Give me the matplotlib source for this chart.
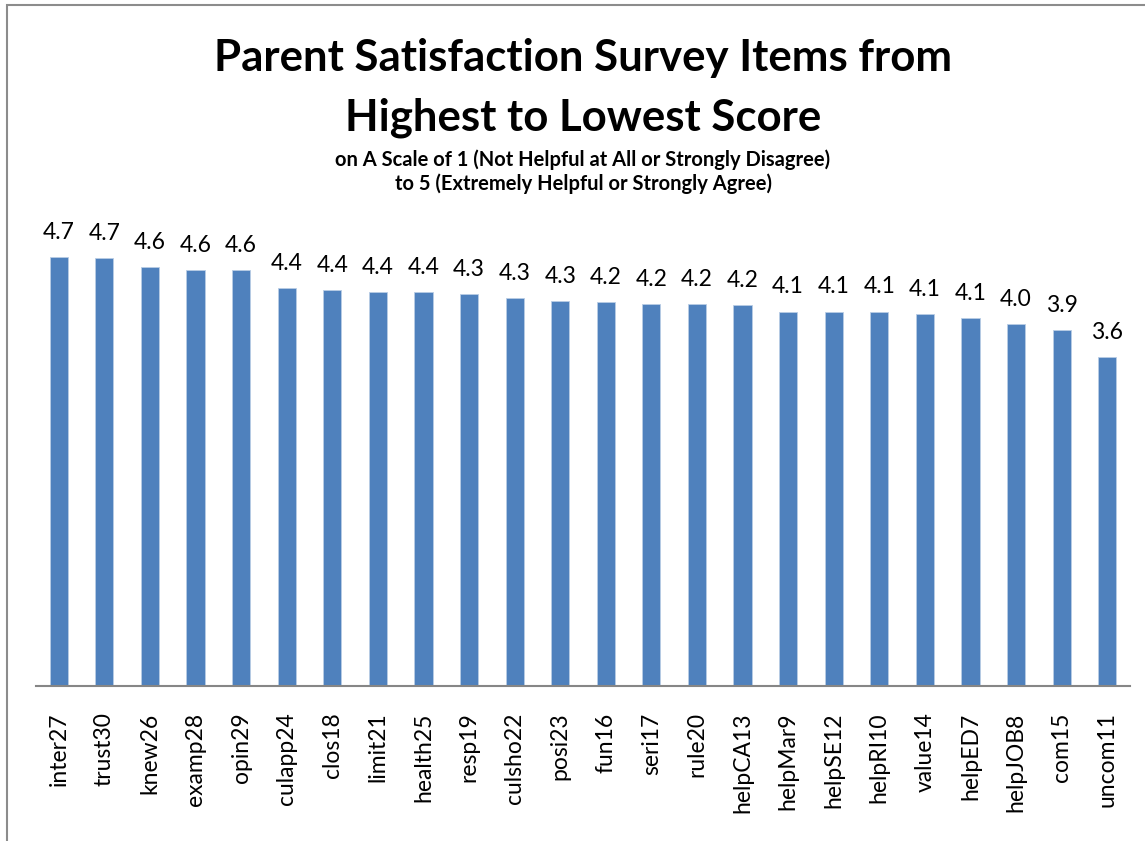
import matplotlib
matplotlib.use("Agg")
import matplotlib.pyplot as plt
from matplotlib.patches import Rectangle

# survey items, sorted from highest to lowest mean score
items = ["inter27", "trust30", "knew26", "examp28", "opin29", "culapp24",
         "clos18", "limit21", "health25", "resp19", "culsho22", "posi23",
         "fun16", "seri17", "rule20", "helpCA13", "helpMar9", "helpSE12",
         "helpRI10", "value14", "helpED7", "helpJOB8", "com15", "uncom11"]
scores = [4.74, 4.73, 4.63, 4.60, 4.60, 4.40,
          4.38, 4.36, 4.36, 4.33, 4.29, 4.26,
          4.24, 4.22, 4.22, 4.21, 4.14, 4.14,
          4.14, 4.11, 4.07, 4.00, 3.94, 3.64]

title_lines = ["Parent Satisfaction Survey Items from", "Highest to Lowest Score"]
subtitle_lines = ["on A Scale of 1 (Not Helpful at All or Strongly Disagree)",
                  "to 5 (Extremely Helpful or Strongly Agree)"]

W, H = 1145, 841
plt.rcParams["font.family"] = ["Lato", "DejaVu Sans"]

fig = plt.figure(figsize=(W / 100, H / 100), dpi=100)

# chart-area frame (left and top edges visible)
fig.patches.append(Rectangle((7 / W, -0.1), 1.2, (H - 5) / H + 0.1,
                             transform=fig.transFigure, fill=False,
                             edgecolor="#8c8c8c", linewidth=1.5))

ymax = 5.0
px_per_unit = 90.45
base_y = 686
top_y = base_y - ymax * px_per_unit
ax = fig.add_axes([36 / W, (H - base_y) / H, (1130 - 36) / W, (base_y - top_y) / H])

x = range(len(items))
ax.bar(x, scores, width=0.4, color="#4f81bd", edgecolor="#b9cde5", linewidth=0.6)
for xi, v in zip(x, scores):
    ax.annotate(f"{v:.1f}", (xi, v), xytext=(0, 13), textcoords="offset points",
                ha="center", va="baseline", fontsize=16.5)

ax.set_xlim(-0.5, len(items) - 0.5)
ax.set_ylim(0, ymax)
ax.set_xticks(list(x))
ax.set_xticklabels(items, rotation=90, fontsize=16.5)
ax.tick_params(axis="x", length=0, pad=19)
ax.set_yticks([])
for side in ["top", "right", "left"]:
    ax.spines[side].set_visible(False)
ax.spines["bottom"].set_color("#868686")
ax.spines["bottom"].set_linewidth(1.5)

cx = 583 / W
fig.text(cx, (H - 71) / H, title_lines[0], ha="center", va="baseline",
         fontsize=31.5, fontweight="bold")
fig.text(cx, (H - 130) / H, title_lines[1], ha="center", va="baseline",
         fontsize=31.5, fontweight="bold")
fig.text(cx, (H - 166) / H, subtitle_lines[0], ha="center", va="baseline",
         fontsize=14.5, fontweight="bold")
fig.text(cx, (H - 190) / H, subtitle_lines[1], ha="center", va="baseline",
         fontsize=14.5, fontweight="bold")

fig.savefig("out.png", dpi=100)
